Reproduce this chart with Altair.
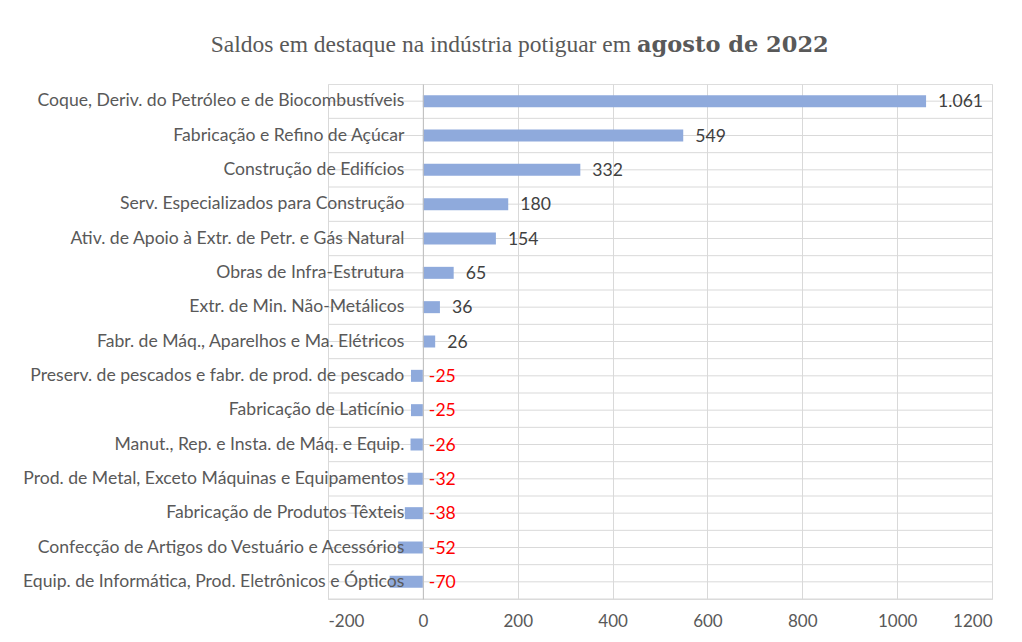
import altair as alt
import pandas as pd

categories = [
    "Coque, Deriv. do Petróleo e de Biocombustíveis",
    "Fabricação e Refino de Açúcar",
    "Construção de Edifícios",
    "Serv. Especializados para Construção",
    "Ativ. de Apoio à Extr. de Petr. e Gás Natural",
    "Obras de Infra-Estrutura",
    "Extr. de Min. Não-Metálicos",
    "Fabr. de Máq., Aparelhos e Ma. Elétricos",
    "Preserv. de pescados e fabr. de prod. de pescado",
    "Fabricação de Laticínio",
    "Manut., Rep. e Insta. de Máq. e Equip.",
    "Prod. de Metal, Exceto Máquinas e Equipamentos",
    "Fabricação de Produtos Têxteis",
    "Confecção de Artigos do Vestuário e Acessórios",
    "Equip. de Informática, Prod. Eletrônicos e Ópticos",
]
values = [1061, 549, 332, 180, 154, 65, 36, 26, -25, -25, -26, -32, -38, -52, -70]
x_ticks = [-200, 0, 200, 400, 600, 800, 1000, 1200]
title_regular = "Saldos em destaque na indústria potiguar em"
title_bold = "agosto de 2022"

W, H = 664, 515
FONT = "Lato"
GRID = "#D9D9D9"
TXT = "#595959"

labels = [f"{v:,}".replace(",", ".") for v in values]
df = pd.DataFrame({
    "cat": categories,
    "val": values,
    "label": labels,
    "sign": ["pos" if v >= 0 else "neg" for v in values],
    "label_x": [v if v >= 0 else 0 for v in values],
})

yscale = alt.Scale(paddingInner=0, paddingOuter=0)
xscale = alt.Scale(domain=[x_ticks[0], x_ticks[-1]], nice=False, zero=False)

yaxis = alt.Axis(
    title=None, grid=False, ticks=False, domain=True, domainColor="#BFBFBF",
    offset=-W / 7, labelPadding=19, labelFont=FONT, labelFontSize=17.6,
    labelColor=TXT, labelLimit=0, zindex=1,
)
Y = alt.Y("cat:N", sort=categories, scale=yscale, axis=yaxis)

base = alt.Chart(df)

center_rules = base.mark_rule(color=GRID, strokeWidth=1).encode(y=Y)
boundary_rules = base.mark_rule(color=GRID, strokeWidth=1, yOffset=H / 30).encode(y=Y)

bars = base.mark_bar(color="#8FAADC", size=12).encode(
    x=alt.X(
        "val:Q",
        scale=xscale,
        axis=alt.Axis(
            values=x_ticks, title=None, grid=True, gridColor=GRID, domain=False,
            ticks=False, labelPadding=14, labelFont=FONT, labelFontSize=17,
            labelColor=TXT, zindex=0, labelExpr="toString(datum.value)",
        ),
    ),
    y=Y,
)

pos_text = base.transform_filter(alt.datum.sign == "pos").mark_text(
    align="left", baseline="middle", dx=12, dy=1, font=FONT, fontSize=17.6, color="#404040"
).encode(
    x=alt.X("label_x:Q", scale=xscale),
    y=Y,
    text="label:N",
)
neg_text = base.transform_filter(alt.datum.sign == "neg").mark_text(
    align="left", baseline="middle", dx=6, dy=1, font=FONT, fontSize=17.6, color="#FF0000"
).encode(
    x=alt.X("label_x:Q", scale=xscale),
    y=Y,
    text="label:N",
)

t1 = alt.Chart(pd.DataFrame({"t": [title_regular]})).mark_text(
    align="right", baseline="middle", font="Liberation Serif", fontSize=23.5, color=TXT, dx=-6
).encode(x=alt.value(309), y=alt.value(-39), text="t:N")
t2 = alt.Chart(pd.DataFrame({"t": [title_bold]})).mark_text(
    align="left", baseline="middle", font="DejaVu Serif", fontSize=22.5,
    fontWeight="bold", color=TXT
).encode(x=alt.value(309), y=alt.value(-39), text="t:N")

chart = alt.layer(
    center_rules, boundary_rules, bars, pos_text, neg_text, t1, t2
).properties(
    width=W, height=H,
    autosize=alt.AutoSizeParams(type="none"),
    padding={"left": 320, "top": 76, "right": 22, "bottom": 40},
).configure_view(stroke=GRID).configure(background="white")

chart.save("out.html", embed_options={"renderer": "svg", "actions": False})
